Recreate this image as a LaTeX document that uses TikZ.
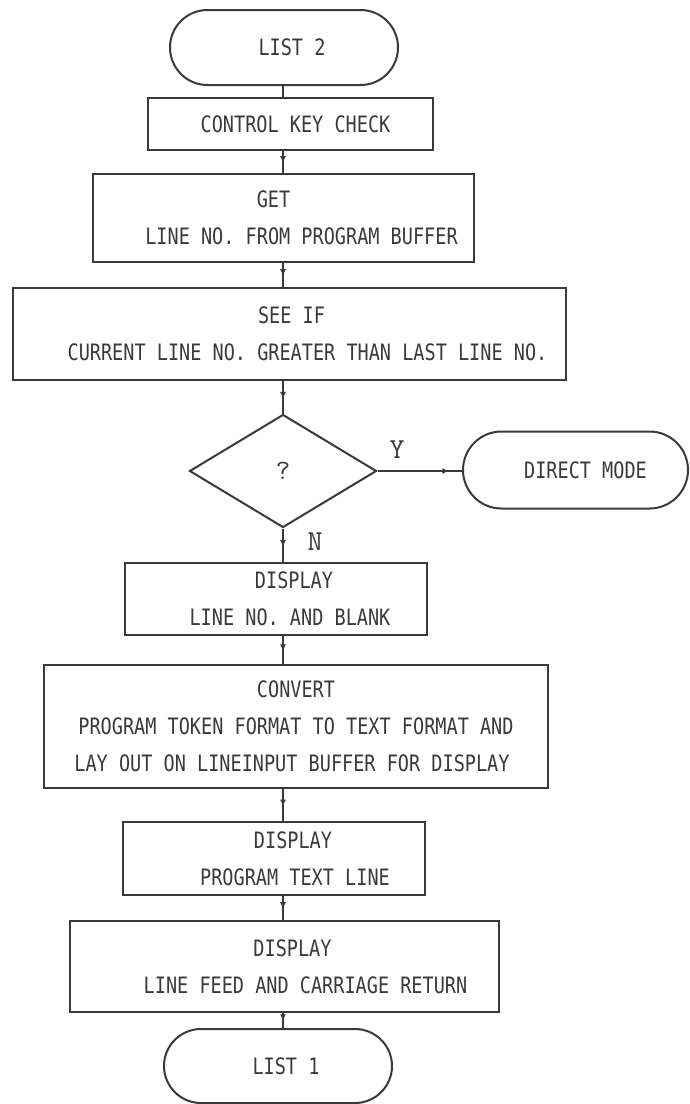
\documentclass[tikz,border=0pt]{standalone}
\usepackage{fontspec}
\usetikzlibrary{shapes.geometric,shapes.misc,arrows.meta,decorations.markings}
\newfontfamily\plotter[FakeStretch=0.82]{DejaVu Sans Mono}
\definecolor{ink}{HTML}{3A3A3A}
% \nudge{d}: moves a centred line right by d units of the picture grid
\newcommand\nudge[1]{\hspace*{#1pt}}
\tikzset{
  every node/.style={text=ink},
  txt/.style={font=\plotter\fontsize{11.3}{18.5}\selectfont, align=center},
  procbox/.style={draw=ink, line width=1pt, rectangle, inner sep=0pt, txt},
  termbox/.style={draw=ink, line width=1pt, rounded rectangle, inner sep=0pt, txt},
  decbox/.style={draw=ink, line width=1pt, diamond, inner sep=0pt,
    font=\ttfamily\fontsize{14}{16}\selectfont},
  branch/.style={font=\ttfamily\fontsize{14.5}{15}\selectfont},
  conn/.style={draw=ink, line width=1pt},
  midarrow/.style={conn, postaction={decorate}, decoration={markings,
    mark=at position #1 with {\arrow{Latex[length=3.5pt,width=3pt]}}}},
  midarrow/.default=0.55
}
\begin{document}
\begin{tikzpicture}[x=0.5pt,y=-0.5pt]
\path[use as bounding box, fill=white] (0,0) rectangle (690,1104);
\coordinate (axis) at (283,0);

% flow column
\node[termbox, minimum width=114pt, minimum height=37.5pt] (list2) at (284,47.5) {\nudge{8}LIST 2};
\node[procbox, minimum width=142.5pt, minimum height=26pt] (ctrl) at (290.5,124) {\nudge{5}CONTROL KEY CHECK};
\node[procbox, minimum width=190.5pt, minimum height=44pt] (get) at (283.5,218)
  {\nudge{-10}GET\\ \nudge{18}LINE NO. FROM PROGRAM BUFFER};
\node[procbox, minimum width=276.5pt, minimum height=46pt] (seeif) at (289.5,334)
  {\nudge{2}SEE IF\\ \nudge{18}CURRENT LINE NO. GREATER THAN LAST LINE NO.};
\node[decbox, minimum width=93.5pt, minimum height=56.5pt] (dec) at (283,471) {?};
\node[termbox, minimum width=112.5pt, minimum height=38.5pt] (direct) at (575.5,470) {\nudge{10}DIRECT MODE};
\node[procbox, minimum width=151pt, minimum height=36pt] (disp1) at (276,599)
  {\nudge{18}DISPLAY\\ \nudge{14}LINE NO. AND BLANK};
\node[procbox, minimum width=252pt, minimum height=61.5pt] (conv) at (296,726.5)
  {CONVERT\\ PROGRAM TOKEN FORMAT TO TEXT FORMAT AND\\ \nudge{-4}LAY OUT ON LINEINPUT BUFFER FOR DISPLAY};
\node[procbox, minimum width=151pt, minimum height=36.5pt] (disp2) at (274,858.5)
  {\nudge{19}DISPLAY\\ \nudge{21}PROGRAM TEXT LINE};
\node[procbox, minimum width=214.5pt, minimum height=45.5pt] (disp3) at (284.5,966.5)
  {\nudge{8}DISPLAY\\ \nudge{21}LINE FEED AND CARRIAGE RETURN};
\node[termbox, minimum width=114pt, minimum height=37pt] (list1) at (278,1066) {\nudge{8}LIST 1};

% branch labels
\node[branch] (ylab) at (397,450) {Y};
\node[branch] (nlab) at (315,542) {N};

% connectors
\draw[conn] (list2.south -| axis) -- (ctrl.north -| axis);
\draw[midarrow] (ctrl.south -| axis) -- (get.north -| axis);
\draw[midarrow] (get.south -| axis) -- (seeif.north -| axis);
\draw[midarrow] (seeif.south -| axis) -- (dec.north);
\draw[midarrow=0.85] (dec.east) -- (dec.east -| direct.west);
\draw[midarrow] (dec.south) -- (disp1.north -| axis);
\draw[midarrow] (disp1.south -| axis) -- (conv.north -| axis);
\draw[midarrow] (conv.south -| axis) -- (disp2.north -| axis);
\draw[midarrow] (disp2.south -| axis) -- (disp3.north -| axis);
\draw[midarrow] (disp3.south -| axis) -- (list1.north -| axis);
\end{tikzpicture}
\end{document}
